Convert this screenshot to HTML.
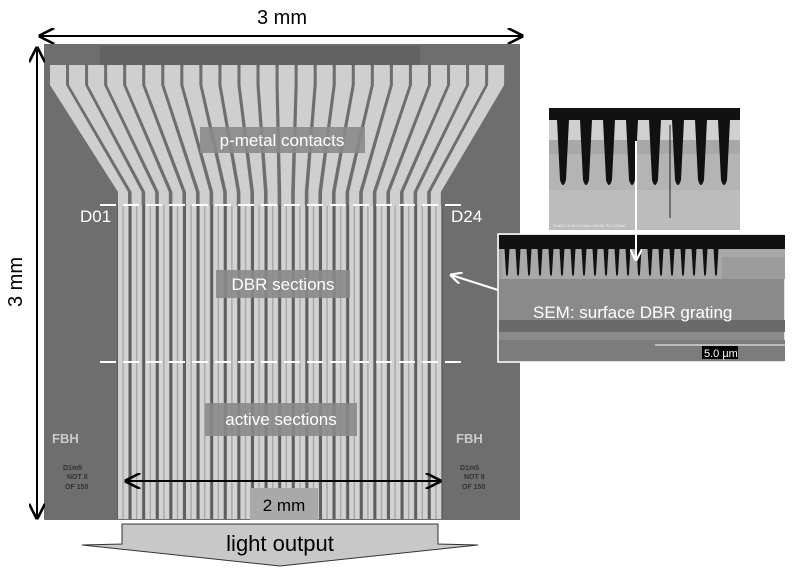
<!DOCTYPE html>
<html><head><meta charset="utf-8"><style>
html,body{margin:0;padding:0;background:#fff;width:800px;height:588px;overflow:hidden}
svg{display:block;font-family:"Liberation Sans",Arial,sans-serif}
</style></head><body>
<svg id="s" width="800" height="588" viewBox="0 0 800 588" xmlns="http://www.w3.org/2000/svg">
<defs>
<marker id="ah" viewBox="0 0 10 10" refX="9" refY="5" markerWidth="8" markerHeight="8" orient="auto-start-reverse"><path d="M0,0 L10,5 L0,10" fill="none" stroke="#000" stroke-width="1.6"/></marker>
<marker id="aw" viewBox="0 0 10 10" refX="9" refY="5" markerWidth="6" markerHeight="6" orient="auto"><path d="M0,0 L10,5 L0,10" fill="none" stroke="#fff" stroke-width="1.8"/></marker>
<pattern id="las" x="117" y="0" width="13.6" height="10" patternUnits="userSpaceOnUse">
<rect width="13.6" height="10" fill="#5e5e5e"/>
<rect x="1" width="10.5" height="10" fill="#d2d2d2"/>
<rect x="5.5" width="1.2" height="10" fill="#a0a0a0"/>
</pattern>
<pattern id="grat" width="11" height="40" patternUnits="userSpaceOnUse" x="502">
<rect width="11" height="40" fill="#a8a8a8"/>
<path d="M2,0 L8,0 L6,34 Q5,38 4,34 Z" fill="#111"/>
</pattern>
<pattern id="grat2" width="23" height="90" patternUnits="userSpaceOnUse" x="553" y="120">
<rect width="23" height="90" fill="none"/>
<path d="M4,0 L16,0 L13,60 Q10,70 7,60 Z" fill="#111"/>
</pattern>
</defs>
<rect x="44" y="44" width="476" height="476" fill="#6e6e6e"/>
<rect x="100" y="46" width="320" height="20" fill="#626262"/>
<rect x="117" y="205" width="326" height="314" fill="url(#las)"/>
<g id="contacts" fill="#cfcfcf"></g>
<rect x="200" y="127" width="165" height="26" fill="#8a8a8a" opacity="0.9"/>
<text x="282" y="146" font-size="17" fill="#fff" text-anchor="middle">p-metal contacts</text>
<rect x="216" y="270" width="134" height="28" fill="#8a8a8a" opacity="0.9"/>
<text x="283" y="290" font-size="17" fill="#fff" text-anchor="middle">DBR sections</text>
<rect x="205" y="403" width="152" height="33" fill="#8a8a8a" opacity="0.9"/>
<text x="281" y="425" font-size="17" fill="#fff" text-anchor="middle">active sections</text>
<line x1="100" y1="205" x2="462" y2="205" stroke="#fff" stroke-width="2" stroke-dasharray="16,7"/>
<line x1="100" y1="362" x2="462" y2="362" stroke="#fff" stroke-width="2" stroke-dasharray="16,7"/>
<text x="80" y="222" font-size="17" fill="#fff">D01</text>
<text x="451" y="222" font-size="17" fill="#fff">D24</text>
<text x="52" y="443" font-size="13" fill="#ccc" font-weight="bold">FBH</text>
<text x="456" y="443" font-size="13" fill="#ccc" font-weight="bold">FBH</text>
<text x="63" y="470" font-size="7" fill="#333" font-weight="bold">D1m5</text>
<text x="67" y="479" font-size="7" fill="#333" font-weight="bold">NOT 8</text>
<text x="65" y="489" font-size="7" fill="#333" font-weight="bold">OF 150</text>
<text x="460" y="470" font-size="7" fill="#333" font-weight="bold">D1m5</text>
<text x="464" y="479" font-size="7" fill="#333" font-weight="bold">NOT 8</text>
<text x="462" y="489" font-size="7" fill="#333" font-weight="bold">OF 150</text>
<rect x="250" y="488" width="68" height="32" fill="#a9a9a9"/>
<line x1="126" y1="481" x2="440" y2="481" stroke="#000" stroke-width="2" marker-start="url(#ah)" marker-end="url(#ah)"/>
<text x="284" y="511" font-size="17" fill="#000" text-anchor="middle">2 mm</text>
<path d="M122,524 L438,524 L438,544 L478,545 L280,566 L82,545 L122,544 Z" fill="#c8c8c8" stroke="#333" stroke-width="1"/>
<text x="280" y="551" font-size="22" fill="#000" text-anchor="middle">light output</text>
<line x1="40" y1="36" x2="522" y2="36" stroke="#000" stroke-width="2" marker-start="url(#ah)" marker-end="url(#ah)"/>
<text x="282" y="24" font-size="20" text-anchor="middle">3 mm</text>
<line x1="37" y1="48" x2="37" y2="518" stroke="#000" stroke-width="2" marker-start="url(#ah)" marker-end="url(#ah)"/>
<text transform="translate(22,282) rotate(-90)" font-size="20" text-anchor="middle">3 mm</text>
<rect x="549" y="108" width="191" height="122" fill="#b4b4b4"/>
<rect x="549" y="108" width="191" height="12" fill="#111"/>
<rect x="549" y="120" width="191" height="20" fill="#d0d0d0"/>
<rect x="549" y="140" width="191" height="14" fill="#a8a8a8"/>
<rect x="549" y="190" width="191" height="40" fill="#bcbcbc"/>
<rect x="549" y="120" width="191" height="70" fill="url(#grat2)"/>
<line x1="670" y1="125" x2="670" y2="218" stroke="#222" stroke-width="1"/>
<text x="553" y="227" font-size="4" fill="#eee">S4800 15.0kV 9.0mm x35.0k PC 1.00um</text>
<rect x="498" y="234" width="287" height="128" fill="#8a8a8a" stroke="#fff" stroke-width="1.5"/>
<rect x="499" y="235" width="286" height="14" fill="#111"/>
<rect x="499" y="249" width="286" height="30" fill="#9c9c9c"/>
<rect x="502" y="249" width="220" height="30" fill="url(#grat)"/>
<rect x="722" y="249" width="63" height="8" fill="#a8a8a8"/>
<rect x="499" y="320" width="286" height="12" fill="#6a6a6a"/>
<rect x="499" y="340" width="286" height="21" fill="#7c7c7c"/>
<text x="533" y="318" font-size="17" fill="#fff">SEM: surface DBR grating</text>
<line x1="655" y1="345" x2="785" y2="345" stroke="#fff" stroke-width="1"/>
<rect x="702" y="346" width="36" height="13" fill="#000"/>
<text x="704" y="357" font-size="11" fill="#fff">5.0 µm</text>
<line x1="636" y1="141" x2="636" y2="260" stroke="#fff" stroke-width="2" marker-end="url(#aw)"/>
<line x1="498" y1="290" x2="451" y2="275" stroke="#fff" stroke-width="2" marker-end="url(#aw)"/>
</svg>
<script>
var g=document.getElementById('contacts'),h='';
for(var i=0;i<24;i++){
 var tc=58+i*19.05, bc=123+i*13.6, tw=8, bw=5;
 h+='<path d="M'+(tc-tw)+',65 L'+(tc+tw)+',65 L'+(tc+tw)+',85 L'+(bc+bw)+',192 L'+(bc+bw)+',206 L'+(bc-bw)+',206 L'+(bc-bw)+',192 L'+(tc-tw)+',85 Z"/>';
}
g.innerHTML=h;
</script>
</body></html>
